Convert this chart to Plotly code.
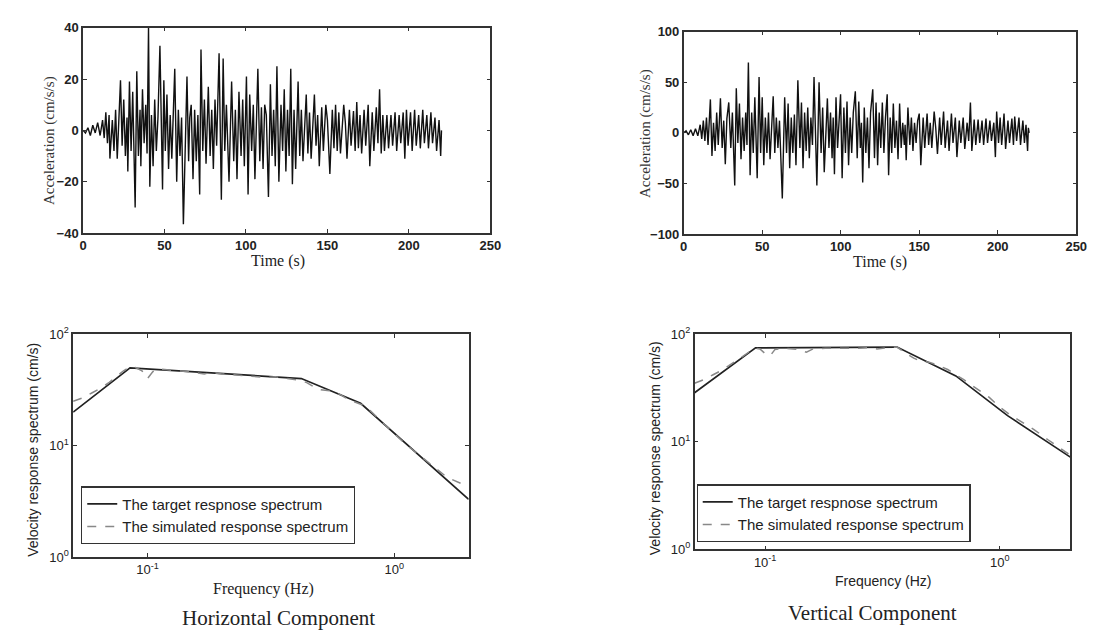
import plotly.graph_objects as go

# ---------------- Data: acceleration time histories ----------------
h_time = [0, 1.5, 3, 4.5, 6, 7.5, 9, 10.5, 12, 13, 14, 15, 16, 16.5, 18, 19, 20, 21, 23, 24,
          25, 26, 27, 27.5, 28.5, 29.5, 30.5, 32, 33, 34, 35, 35.5, 36.5, 37.5, 38.5, 39.3, 40.2, 41, 42, 43,
          44, 45, 46, 47.2, 48.8, 49.6, 50.5, 51.5, 52.5, 53.5, 54.5, 56.3, 57.5, 58.5, 59.5, 60.5, 61.6, 63.8, 64.8, 65.5,
          66.4, 67.5, 68.5, 69.5, 70.5, 71.6, 72.4, 73.5, 74.5, 75.5, 76.9, 78, 79, 80, 81, 82, 83.5, 84.9, 86, 87,
          88, 89.6, 91.2, 92.5, 93.5, 94.5, 95.7, 97, 98, 99, 100.3, 101.3, 102.3, 103.5, 104.5, 105.5, 107.3, 108.5, 109.5, 110.5,
          111.5, 112.5, 113.8, 115, 116, 117, 118, 119, 120.2, 121.5, 122.5, 123.5, 124.5, 125.5, 126.5, 127.5, 128.5, 129.5, 130.5, 132,
          133, 134, 135, 137, 138, 139, 140, 142, 143, 144, 145, 146.5, 147.5, 149, 150, 151.5, 153, 154, 155, 156,
          157, 158, 160, 161, 162, 163.5, 164.5, 166, 167, 168, 169, 170, 171, 172.5, 173.5, 175, 176, 177.5, 178.5, 180,
          181, 182, 183, 184, 185, 186.5, 187.5, 189, 190, 191.5, 192.5, 194, 195, 196.5, 197.5, 198.5, 199.5, 201, 202, 203.5,
          204.5, 206, 207, 208.5, 209.5, 211, 212, 213.5, 214.5, 216, 217, 218.5, 219.5, 220]
h_acc = [0, -1, 1, -2, 2, -1, 3, -2, 4, -3, 7, -5, 6, -11, 4, -8, 8, -11, 19.5, -6,
         12, -10, 5, -16, 19, -8, 15, -30, 23, -10, 8, -14, 16, -5, 10, -9, 40, -22, 6, -14,
         12, -8, 5, 33, -23, 19.5, -8, 14, -15, 6, -11, 24, -20, 8, -10, 5, -36.6, 21, -12, 5,
         10, -19, 8, -12, 6, -25, 31.5, -8, 12, -13, 17, -10, 8, -15, 12, -6, 30, -27, 28, -8,
         10, -20, 19, -12, 8, -19, 15, -10, 12, -14, 21, -25, 14, -8, 10, -19, 24, -12, 9, -15,
         10, 6, -26, 18, -10, 8, -14, 25, -20, 10, -8, 16, -16, 8, -10, 24, -21, 8, -15, 19,
         -10, 8, -12, 14, -9, 7, -11, 14, -6, 6, -14, 9, -8, 10, 4, -17, 8, -7, 10, -8,
         7, -9, 10, 3, -11, 8, -6, 7.5, -8, 11, -7, 6, -9, 8, -6, 10, -14, 7, -8, 9,
         -5, 16, -9, 6, -8, 6, -7, 6, -6, 7, -8, 6, -5, 7, -11, 8, -6, 7, -8, 8,
         -6, 6, -7, 8, -5, 6, -7, 7, -5, 5, -8, 4, -10, 0]

v_time = [0, 1.5, 3, 4.5, 6, 7.5, 9, 10.5, 11.5, 12.5, 13.5, 14.5, 15.5, 17, 18, 19, 20, 21, 22, 23.4,
          24.5, 25.5, 26.5, 27.5, 28.7, 30, 31, 32.5, 33.5, 34.5, 35.5, 36.5, 37.5, 38.5, 39.5, 40.3, 41.2, 42.3, 43.3, 44.3,
          45.3, 46.3, 46.8, 48, 49, 50, 51, 52, 53, 54, 55, 57, 58, 59, 60, 61, 62.8, 64.3, 65.5, 66.5,
          67.5, 68.5, 69.5, 70.5, 71.5, 72.7, 74, 75, 76, 77, 78, 79, 80, 81, 82, 83, 84.8, 86.2, 87.5, 88.5,
          89.5, 91.5, 92.5, 93.5, 94.5, 95.2, 96, 97, 98, 99.9, 100.9, 102, 103, 104, 105, 106, 107, 108, 109.3, 110.5,
          111.5, 112.5, 113.2, 114, 115, 116, 117, 118, 119, 120.4, 121.5, 122.5, 123.5, 124.5, 125.5, 126.5, 127.5, 128.5, 129.6, 130.5,
          131.5, 132.5, 133.5, 134.5, 135.5, 136.5, 137.5, 138.5, 139.5, 140.5, 141, 141.7, 142.8, 144, 145, 146, 147, 148, 149, 150,
          151, 152.5, 153.5, 155, 156, 157, 158, 159.5, 160.5, 161.6, 163, 164, 165.5, 166.5, 168, 169, 170.5, 171.5, 173, 174,
          175.5, 176.5, 178, 179, 180.5, 181.5, 182.6, 183.5, 185, 186, 187.5, 188.5, 190, 191, 192.5, 193.5, 195, 196, 197.5, 198.5,
          199.3, 200.5, 201.5, 202.5, 204, 205, 206.5, 207.5, 209, 210, 210.8, 212, 213.5, 214.5, 216, 217, 218, 219, 219.5, 220]
v_acc = [0, 2, -2, 3, -3, 4, -3, 8, -6, 12, -8, 15, -12, 33, -23, 10, -18, 20, -12, 34,
         -15, 12, -31, 14, 30, -15, 20, -52, 44, -10, 29, -26, 15, -18, 20, -12, 69.5, -42, 20, -20,
         35, -15, -45, 55, -20, 35, -32, 15, -20, 20, -26, 36, -20, 15, -15, 12, -65, 35, -20, 29,
         -35, 15, -20, 18, -32, 52, -15, 30, -35, 20, -18, 25, -25, 15, -12, 55, -52, 50, -20, 25,
         -39, 34, -15, 20, -25, 15, -41, 35, -15, 38, -45, 25, -20, 31, -32, 15, -20, 20, 41, -25,
         31, -15, 10, -49, 25, -20, 15, -35, 20, 43, -25, 30, -32, 20, -15, 30, -20, 15, 38, -42,
         15, -20, 29, -15, 12, -26, 29, -15, 10, -12, 8, -27, 25, -12, 15, -18, 10, -10, 12, 19,
         -32, 15, -15, 19, -12, 10, -15, 21, 5, -21, 15, -12, 21, -15, 12, -18, 19, -10, 15, -24,
         12, -10, 15, -16, 10, -8, 30, -18, 13, -12, 13, -10, 12, -12, 14, -10, 12, -8, 10, -24,
         21, -10, 15, -12, 19, -16, 12, -10, 14, -12, 16, -8, 15, -12, 12, -10, 8, -18, 5, 0]

# ---------------- Data: velocity response spectra ----------------
h_target_f = [0.05, 0.085, 0.42, 0.73, 2.0]
h_target_v = [20, 50, 40, 24, 3.3]
h_sim_f = [0.05, 0.055, 0.06, 0.065, 0.07, 0.075, 0.08, 0.085, 0.09, 0.095, 0.1, 0.105, 0.11, 0.12, 0.13,
           0.14, 0.15, 0.16, 0.17, 0.18, 0.2, 0.22, 0.25, 0.28, 0.3, 0.33, 0.36, 0.4, 0.44, 0.49,
           0.55, 0.6, 0.65, 0.7, 0.75, 0.8, 0.9, 1.0, 1.1, 1.2, 1.3, 1.4, 1.5, 1.6, 1.7, 1.8, 1.9, 2.0]
h_sim_v = [25, 27, 30, 33, 37, 42, 47, 51, 50, 47, 40, 46, 49, 48, 47,
           46.5, 46, 45, 44, 45.5, 44, 43.5, 42.5, 42, 41, 41.5, 40.5, 39, 37, 32,
           31, 29, 26, 24.5, 23, 20.5, 16, 12.8, 10.5, 9, 7.8, 6.8, 6.0, 5.4, 5.0, 4.7, 4.5, 4.4]

v_target_f = [0.05, 0.091, 0.365, 0.65, 1.08, 2.0]
v_target_v = [28.6, 74.6, 76, 41, 17.5, 7.2]
v_sim_f = [0.05, 0.055, 0.06, 0.065, 0.07, 0.075, 0.08, 0.085, 0.09, 0.095, 0.1, 0.105, 0.11, 0.12, 0.13,
           0.14, 0.15, 0.16, 0.18, 0.2, 0.22, 0.25, 0.28, 0.3, 0.33, 0.365, 0.4, 0.43, 0.46, 0.5,
           0.55, 0.6, 0.65, 0.7, 0.8, 0.9, 1.0, 1.1, 1.2, 1.4, 1.6, 1.8, 2.0]
v_sim_v = [35, 38, 42, 46, 51, 56, 62, 68, 74, 73, 66, 63, 72, 74, 73,
           72, 68, 73, 74, 74, 73, 74, 75, 73, 75, 76, 66, 60, 56, 55,
           51, 47, 42, 38, 31, 26, 21, 18, 16, 13, 10.5, 8.8, 7.5]

# ---------------- Figure ----------------
W, H = 1098, 633
def px(x):
    return x / W
def py(y):
    return 1 - y / H

fig = go.Figure()

serif = "Liberation Serif"
sans = "Liberation Sans"

fig.add_trace(go.Scatter(x=h_time, y=h_acc, mode="lines", line=dict(color="#111", width=1.4),
                         xaxis="x", yaxis="y", showlegend=False))
fig.add_trace(go.Scatter(x=v_time, y=v_acc, mode="lines", line=dict(color="#111", width=1.4),
                         xaxis="x2", yaxis="y2", showlegend=False))

fig.add_trace(go.Scatter(x=h_target_f, y=h_target_v, mode="lines", line=dict(color="#222", width=1.7),
                         name="The target respnose spectrum", xaxis="x3", yaxis="y3", legend="legend"))
fig.add_trace(go.Scatter(x=h_sim_f, y=h_sim_v, mode="lines", line=dict(color="#888", width=1.5, dash="dash"),
                         name="The simulated response spectrum", xaxis="x3", yaxis="y3", legend="legend"))
fig.add_trace(go.Scatter(x=v_target_f, y=v_target_v, mode="lines", line=dict(color="#222", width=1.7),
                         name="The target respnose spectrum", xaxis="x4", yaxis="y4", legend="legend2"))
fig.add_trace(go.Scatter(x=v_sim_f, y=v_sim_v, mode="lines", line=dict(color="#888", width=1.5, dash="dash"),
                         name="The simulated response spectrum", xaxis="x4", yaxis="y4", legend="legend2"))

axis_common = dict(showline=True, linecolor="#333", linewidth=1.5, mirror="ticks", ticks="inside",
                   ticklen=4, tickcolor="#333", showgrid=False, zeroline=False)

log_ticks_x = dict(tickvals=[0.1, 1], ticktext=["10<sup>-1</sup>", "10<sup>0</sup>"])
log_ticks_y = dict(tickvals=[1, 10, 100], ticktext=["10<sup>0</sup>", "10<sup>1</sup>", "10<sup>2</sup>"])

bold_tick = dict(family=sans, size=13, color="#222", weight="bold")
log_tick = dict(family=sans, size=13, color="#222")

fig.update_layout(
    width=W, height=H, margin=dict(l=0, r=0, t=0, b=0),
    paper_bgcolor="white", plot_bgcolor="white",
    xaxis=dict(domain=[px(72), px(485)], range=[0, 250], dtick=50, anchor="y",
               tickfont=bold_tick, ticklabelstandoff=0, **axis_common),
    yaxis=dict(domain=[py(222), py(11)], range=[-40, 40], dtick=20, anchor="x",
               tickfont=bold_tick, **axis_common),
    xaxis2=dict(domain=[px(681), px(1079)], range=[0, 250], dtick=50, anchor="y2",
                tickfont=bold_tick, ticklabelstandoff=0, **axis_common),
    yaxis2=dict(domain=[py(223), py(15)], range=[-100, 100], dtick=50, anchor="x2",
                tickfont=bold_tick, **axis_common),
    xaxis3=dict(domain=[px(62), px(463)], type="log", range=[-1.30103, 0.30103], anchor="y3",
                tickfont=log_tick, **log_ticks_x, **axis_common),
    yaxis3=dict(domain=[py(555), py(326)], type="log", range=[0, 2], anchor="x3",
                tickfont=log_tick, **log_ticks_y, **axis_common),
    xaxis4=dict(domain=[px(692), px(1073)], type="log", range=[-1.30103, 0.30103], anchor="y4",
                tickfont=log_tick, **log_ticks_x, **axis_common),
    yaxis4=dict(domain=[py(547), py(326)], type="log", range=[0, 2], anchor="x4",
                tickfont=log_tick, **log_ticks_y, **axis_common),
    legend=dict(x=px(70), y=py(542), xanchor="left", yanchor="bottom", bgcolor="white",
                bordercolor="#333", borderwidth=1.2, font=dict(family=sans, size=15, color="#222"),
                tracegroupgap=0, itemwidth=30),
    legend2=dict(x=px(694), y=py(540), xanchor="left", yanchor="bottom", bgcolor="white",
                 bordercolor="#333", borderwidth=1.2, font=dict(family=sans, size=15, color="#222"),
                 tracegroupgap=0, itemwidth=30),
)

ann = [
    dict(text="Time (s)", x=px(270), y=py(251), font=dict(family=serif, size=16, color="#222")),
    dict(text="Time (s)", x=px(880), y=py(252), font=dict(family=serif, size=16, color="#222")),
    dict(text="Acceleration (cm/s/s)", x=px(38), y=py(127), textangle=-90,
         font=dict(family=serif, size=15, color="#333")),
    dict(text="Acceleration (cm/s/s)", x=px(643), y=py(120), textangle=-90,
         font=dict(family=serif, size=15, color="#333")),
    dict(text="Velocity response spectrum (cm/s)", x=px(21), y=py(445), textangle=-90,
         font=dict(family=sans, size=14, color="#222")),
    dict(text="Velocity response spectrum (cm/s)", x=px(652), y=py(443), textangle=-90,
         font=dict(family=sans, size=14, color="#222")),
    dict(text="Frequency (Hz)", x=px(255), y=py(588), font=dict(family=serif, size=16, color="#222")),
    dict(text="Frequency (Hz)", x=px(883), y=py(580), font=dict(family=sans, size=14, color="#222")),
    dict(text="Horizontal Component", x=px(270), y=py(618), font=dict(family=serif, size=21, color="#222")),
    dict(text="Vertical Component", x=px(872), y=py(612), font=dict(family=serif, size=21, color="#222")),
]
for a in ann:
    a.update(xref="paper", yref="paper", showarrow=False, xanchor="center", yanchor="middle")
fig.update_layout(annotations=ann)

fig.write_html("out.html")
